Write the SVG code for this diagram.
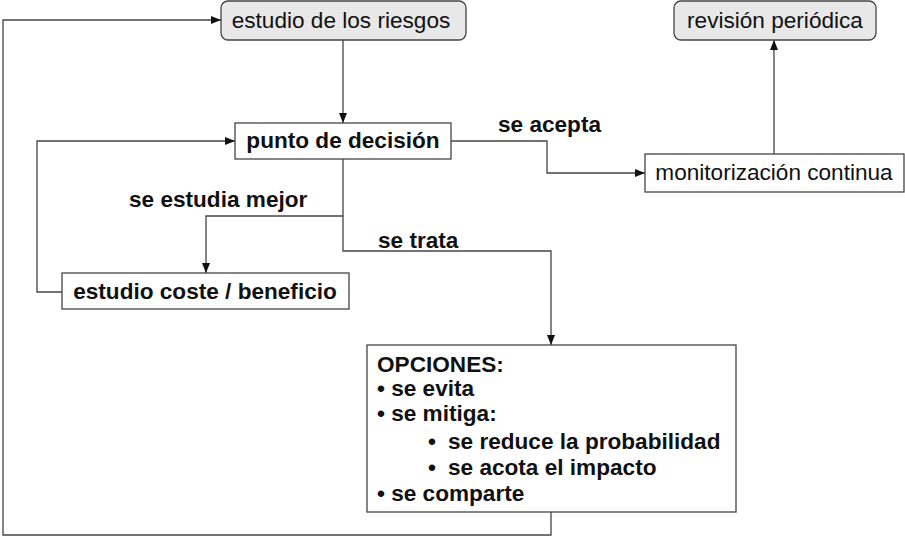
<svg xmlns="http://www.w3.org/2000/svg" width="905" height="536" viewBox="0 0 905 536">
  <defs>
    <style>
      .box { fill: #ffffff; stroke: #444444; stroke-width: 1.3; }
      .rbox { fill: #e8e8e8; stroke: #444444; stroke-width: 1.3; }
      .edge { fill: none; stroke: #444444; stroke-width: 1.3; }
      .reg { font-family: "Liberation Sans", Arial, sans-serif; font-size: 22.6px; fill: #111111; }
      .bold { font-family: "Liberation Sans", Arial, sans-serif; font-size: 22.6px; font-weight: bold; fill: #111111; }
      .mid { text-anchor: middle; }
    </style>
    <marker id="arr" markerUnits="userSpaceOnUse" markerWidth="10" markerHeight="10" viewBox="0 0 10 10" refX="10" refY="5" orient="auto">
      <path d="M0,1 L10,5 L0,9 Z" fill="#111111"/>
    </marker>
  </defs>
  <rect width="905" height="536" fill="#ffffff"/>

  <g id="connectors">
    <!-- estudio de los riesgos -> punto de decisión -->
    <path class="edge" d="M343,40 L343,123" marker-end="url(#arr)"/>
    <!-- se acepta -->
    <path class="edge" d="M451,141 L547,141 L547,173 L645,173" marker-end="url(#arr)"/>
    <!-- monitorización -> revisión -->
    <path class="edge" d="M774,154 L774,40" marker-end="url(#arr)"/>
    <!-- se trata -->
    <path class="edge" d="M343,159 L343,251 L551,251 L551,345" marker-end="url(#arr)"/>
    <!-- se estudia mejor -->
    <path class="edge" d="M343,216 L206,216 L206,273" marker-end="url(#arr)"/>
    <!-- estudio coste loop back -->
    <path class="edge" d="M62,292 L37,292 L37,141 L235,141" marker-end="url(#arr)"/>
    <!-- options loop back -->
    <path class="edge" d="M551,512 L551,535 L3,535 L3,20 L221,20" marker-end="url(#arr)"/>
    <text class="bold" x="498" y="132">se acepta</text>
    <text class="bold" x="129" y="207">se estudia mejor</text>
    <text class="bold" x="378" y="248">se trata</text>
  </g>

  <g id="estudio-riesgos">
    <rect class="rbox" x="221" y="1" width="245" height="39" rx="7" ry="7"/>
    <text class="reg mid" x="341" y="28">estudio de los riesgos</text>
  </g>

  <g id="revision-periodica">
    <rect class="rbox" x="674" y="1" width="202" height="39" rx="7" ry="7"/>
    <text class="reg mid" x="775" y="28">revisión periódica</text>
  </g>

  <g id="punto-decision">
    <rect class="box" x="235" y="123" width="216" height="36"/>
    <text class="bold mid" x="343" y="148">punto de decisión</text>
  </g>

  <g id="monitorizacion">
    <rect class="box" x="645" y="154" width="259" height="38"/>
    <text class="reg mid" x="774" y="180">monitorización continua</text>
  </g>

  <g id="estudio-coste">
    <rect class="box" x="62" y="273" width="287" height="36"/>
    <text class="bold mid" x="205" y="299">estudio coste / beneficio</text>
  </g>

  <g id="opciones">
    <rect class="box" x="367" y="345" width="369" height="167"/>
    <text class="bold" x="377" y="372">OPCIONES:</text>
    <text class="bold" x="377" y="396">• se evita</text>
    <text class="bold" x="377" y="421">• se mitiga:</text>
    <text class="bold" y="449"><tspan x="428">•</tspan><tspan x="448">se reduce la probabilidad</tspan></text>
    <text class="bold" y="475"><tspan x="428">•</tspan><tspan x="448">se acota el impacto</tspan></text>
    <text class="bold" x="377" y="501">• se comparte</text>
  </g>
</svg>
